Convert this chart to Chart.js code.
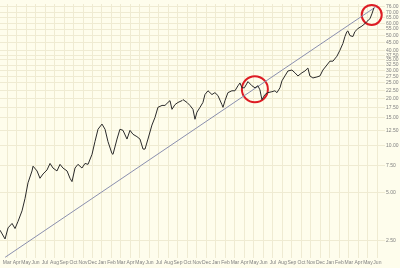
<!DOCTYPE html>
<html>
<head>
<meta charset="utf-8">
<script src="https://cdn.jsdelivr.net/npm/chart.js@4.4.0/dist/chart.umd.min.js"></script>
<style>
html, body { margin: 0; padding: 0; background: #fefdec; }
#wrap { width: 400px; height: 268px; }
</style>
</head>
<body>
<div id="wrap"><canvas id="priceChart" width="400" height="268"></canvas></div>
<script>
// month labels along the bottom (one per month)
const months = ['Mar','Apr','May','Jun','Jul','Aug','Sep','Oct','Nov','Dec','Jan','Feb',
                'Mar','Apr','May','Jun','Jul','Aug','Sep','Oct','Nov','Dec','Jan','Feb',
                'Mar','Apr','May','Jun','Jul','Aug','Sep','Oct','Nov','Dec','Jan','Feb',
                'Mar','Apr','May','Jun'];

// price axis ticks (log scale)
const priceTicks = [2.5, 5, 7.5, 10, 12.5, 15, 17.5, 20, 22.5, 25, 27.5, 30, 32.5, 35, 37.5, 40, 45, 50, 55, 60, 65, 70, 76];

// price, sampled about every half month (x = months since first Mar)
const priceX = [-0.74, -0.21, 0.11, 0.53, 0.84, 1.16, 1.58, 1.89, 2.21, 2.63, 2.74, 3.16, 3.47, 3.79,
  4.21, 4.53, 4.84, 5.26, 5.58, 5.89, 6.32, 6.63, 6.84, 7.16, 7.47, 7.89, 8.21, 8.53, 8.95, 9.26,
  9.58, 10.0, 10.32, 10.63, 11.05, 11.16, 11.58, 11.89, 12.21, 12.63, 12.95, 13.26, 13.68, 14.0,
  14.32, 14.53, 14.84, 15.26, 15.58, 15.89, 16.32, 16.63, 16.95, 17.16, 17.37, 17.68, 18.0, 18.42,
  18.53, 18.95, 19.26, 19.58, 19.79, 20.0, 20.32, 20.63, 20.84, 21.16, 21.58, 21.89, 22.21, 22.63,
  22.74, 22.95, 23.26, 23.68, 24.0, 24.32, 24.53, 24.74, 25.0, 25.37, 25.79, 26.11, 26.42, 26.63,
  26.84, 27.16, 27.47, 27.89, 28.21, 28.42, 28.74, 28.95, 29.26, 29.58, 30.0, 30.32, 30.63, 31.05,
  31.37, 31.68, 31.89, 32.21, 32.63, 32.95, 33.26, 33.68, 34.0, 34.32, 34.74, 35.05, 35.37, 35.58,
  35.79, 35.89, 36.11, 36.42, 36.63, 36.95, 37.37, 37.68, 37.89, 38.21, 38.42, 38.63];
const priceY = [2.9, 2.55, 3.0, 3.2, 2.97, 3.3, 3.85, 4.6, 5.8, 6.9, 7.4, 6.9, 6.2, 6.6,
  7.0, 7.7, 7.2, 6.9, 7.6, 7.2, 6.9, 6.2, 5.9, 7.2, 7.6, 7.2, 7.7, 7.6, 8.8, 10.6,
  12.7, 13.7, 12.7, 10.6, 8.9, 8.8, 11.0, 12.7, 12.5, 11.0, 12.5, 11.8, 11.4, 11.0,
  9.5, 9.5, 11.0, 13.5, 15.1, 17.5, 18.0, 18.0, 18.8, 19.3, 17.0, 18.2, 18.8, 19.3,
  19.6, 18.8, 18.0, 17.0, 14.7, 16.3, 17.5, 18.8, 21.1, 22.3, 21.1, 21.7, 20.8, 18.2,
  17.5, 19.3, 21.7, 22.3, 22.3, 24.0, 25.0, 23.3, 23.3, 25.5, 24.0, 23.3, 24.0, 22.6,
  19.6, 21.1, 21.7, 22.0, 22.3, 21.7, 23.3, 25.8, 27.7, 29.8, 30.2, 29.0, 27.7, 29.0,
  29.8, 31.1, 27.7, 26.9, 27.3, 27.7, 30.2, 32.5, 34.4, 34.4, 37.0, 40.3, 44.6, 49.3,
  53.0, 53.5, 50.0, 49.3, 53.0, 55.4, 57.5, 59.5, 61.5, 63.9, 68.7, 75.0];

// long-term trend line ends
const trendX = [-0.2, 38.8];
const trendY = [1.95, 76];

// circled spots
const circleX = [26.1, 38.4];
const circleY = [22.8, 67.7];
const circleR = [13, 10];

const ctx = document.getElementById('priceChart').getContext('2d');
const priceChart = new Chart(ctx, {
    type: 'line',
    data: {
        datasets: [{
            data: priceX.map((x, i) => ({ x: x, y: priceY[i] })),
            borderColor: '#2a2a2a',
            borderWidth: 1,
            pointRadius: 0,
            tension: 0
        }, {
            data: trendX.map((x, i) => ({ x: x, y: trendY[i] })),
            borderColor: '#8a8fae',
            borderWidth: 1,
            pointRadius: 0
        }, {
            data: circleX.map((x, i) => ({ x: x, y: circleY[i] })),
            showLine: false,
            pointRadius: circleR,
            pointBorderColor: '#dd1c24',
            pointBorderWidth: 2,
            pointBackgroundColor: 'rgba(0,0,0,0)',
            clip: false
        }]
    },
    options: {
        responsive: false,
        animation: false,
        layout: { padding: 0, autoPadding: false },
        plugins: { legend: { display: false }, tooltip: { enabled: false } },
        scales: {
            x: {
                type: 'linear',
                min: -0.74,
                max: 39.8,
                afterBuildTicks: s => { s.ticks = months.map((m, i) => ({ value: i })); },
                afterFit: s => { s.height = 10; },
                grid: { color: '#efebd2', lineWidth: 1, drawTicks: false },
                border: { display: false },
                ticks: {
                    autoSkip: false,
                    maxRotation: 0,
                    padding: 2,
                    color: '#808080',
                    font: { family: 'Liberation Sans', size: 5 },
                    callback: v => months[v]
                }
            },
            y: {
                type: 'logarithmic',
                position: 'right',
                min: 1.93,
                max: 79.4,
                afterBuildTicks: s => { s.ticks = priceTicks.map(v => ({ value: v })); },
                afterFit: s => { s.width = 15; },
                grid: { color: '#efebd2', lineWidth: 1, drawTicks: false },
                border: { display: false },
                ticks: {
                    autoSkip: false,
                    padding: 1,
                    color: '#808080',
                    font: { family: 'Liberation Sans', size: 5 },
                    callback: v => Number(v).toFixed(2)
                }
            }
        }
    }
});
</script>
</body>
</html>
